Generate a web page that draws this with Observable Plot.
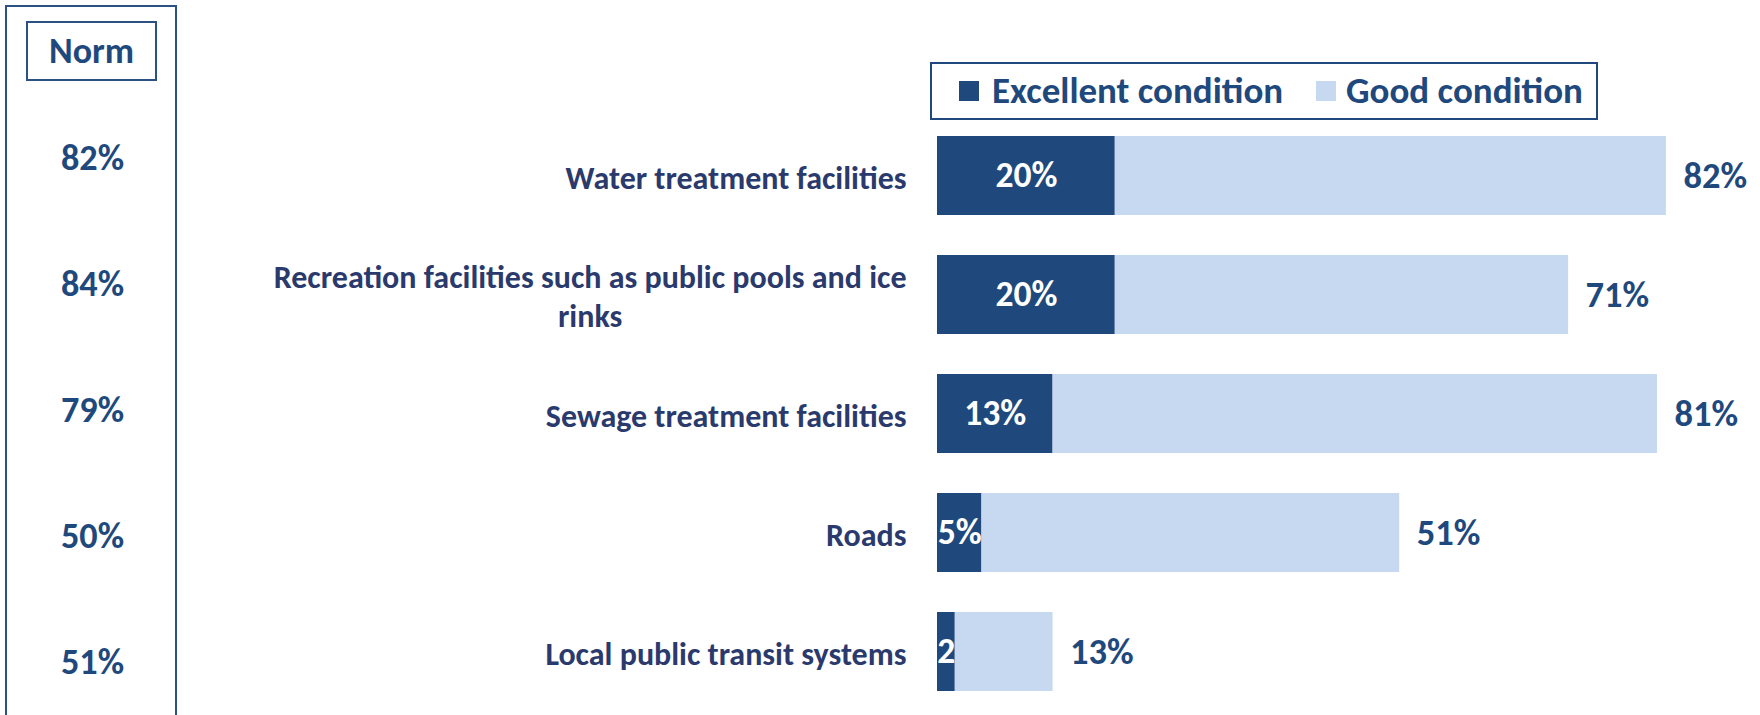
<!DOCTYPE html>
<html><head><meta charset="utf-8">
<script src="https://cdn.jsdelivr.net/npm/d3@7"></script>
<script src="https://cdn.jsdelivr.net/npm/@observablehq/plot@0.6"></script>
<style>
html,body{margin:0;padding:0;background:#fff;overflow:hidden;}
#wrap{position:relative;width:1760px;height:715px;font-family:Carlito, Lato, sans-serif;font-weight:bold;}
#wrap svg{position:absolute;left:0;top:0;background:transparent;}
.box{position:absolute;box-sizing:border-box;}
#normOuter{left:5px;top:5px;width:172px;height:730px;border:2px solid #2C5283;border-bottom:none;}
#normHead{left:26px;top:21px;width:131px;height:60px;border:2px solid #2C5283;display:flex;align-items:center;justify-content:center;color:#1F497D;font-size:36px;line-height:1;}
#legend{left:930px;top:62px;width:668px;height:58px;border:2px solid #1F497D;}
.sw{position:absolute;width:20px;height:20px;}
.lt{position:absolute;font-size:37px;line-height:37px;color:#1F497D;white-space:nowrap;}
</style></head><body>
<div id="wrap"></div>
<script>
// ---- data ----
const categories = [
  "Water treatment facilities",
  "Recreation facilities such as public pools and ice\nrinks",
  "Sewage treatment facilities",
  "Roads",
  "Local public transit systems"
];
const excellent = [20, 20, 13, 5, 2];
const good = [62, 51, 68, 47, 11];
const totals = [82, 71, 81, 51, 13];
const norm = [82, 84, 79, 50, 51];
const series = ["Excellent condition", "Good condition"];
const colors = ["#1F497D", "#C6D9F1"];

const rows = categories.map((c, i) => ({category: c, excellent: excellent[i], good: good[i], total: totals[i], norm: norm[i]}));
const long = rows.flatMap(r => [
  {category: r.category, series: series[0], value: r.excellent},
  {category: r.category, series: series[1], value: r.good}
]);

const FONT = "Carlito, Lato, sans-serif";
const wrap = document.getElementById("wrap");

const main = Plot.plot({
  width: 1760,
  height: 715,
  marginLeft: 937,
  marginRight: 23,
  marginTop: 115.6,
  marginBottom: 2.9,
  style: {fontFamily: FONT, background: "transparent"},
  x: {domain: [0, 90], axis: null},
  y: {domain: categories, paddingInner: 0.338, paddingOuter: 0.169, axis: null},
  color: {domain: series, range: colors},
  marks: [
    Plot.barX(long, Plot.stackX({y: "category", x: "value", fill: "series", order: series})),
    Plot.text(rows, {
      x: d => d.excellent / 2, y: "category",
      text: d => d.excellent >= 5 ? `${d.excellent}%` : `${d.excellent}`,
      fill: "white", fontSize: 35.6, fontWeight: "bold"
    }),
    Plot.text(rows, {
      x: d => d.excellent + d.good, y: "category",
      text: d => `${d.total}%`, textAnchor: "start", dx: 17,
      fill: "#1F497D", fontSize: 36.5, fontWeight: "bold"
    }),
    Plot.text(rows, {
      y: "category", text: "category", frameAnchor: "left", textAnchor: "end", dx: -31,
      fill: "#2B3A6D", fontSize: 32, fontWeight: "bold", lineHeight: 1.22
    })
  ]
});
wrap.appendChild(main);

// centre the lines of a wrapped category label within its right-aligned block
main.querySelectorAll("text").forEach(t => {
  const spans = t.querySelectorAll("tspan");
  if (spans.length > 1) {
    const w = d3.max(Array.from(spans), s => s.getComputedTextLength());
    t.setAttribute("text-anchor", "middle");
    spans.forEach(s => s.setAttribute("x", -w / 2));
  }
});

const normPlot = Plot.plot({
  width: 180,
  height: 715,
  margin: 0,
  marginLeft: 4,
  style: {fontFamily: FONT, background: "transparent"},
  x: {axis: null},
  y: {type: "point", domain: categories, range: [157, 662], padding: 0, axis: null},
  marks: [
    Plot.text(rows, {
      y: "category", frameAnchor: "middle", text: d => `${d.norm}%`,
      fill: "#1F497D", fontSize: 36.2, fontWeight: "bold"
    })
  ]
});
wrap.appendChild(normPlot);

// Norm column frame and header
const outer = document.createElement("div");
outer.className = "box"; outer.id = "normOuter";
wrap.appendChild(outer);
const head = document.createElement("div");
head.className = "box"; head.id = "normHead"; head.textContent = "Norm";
wrap.appendChild(head);

// legend
const legend = document.createElement("div");
legend.className = "box"; legend.id = "legend";
wrap.appendChild(legend);
const legendItems = [
  {sw: 27, tx: 60},
  {sw: 384, tx: 414}
];
series.forEach((s, i) => {
  const sw = document.createElement("div");
  sw.className = "sw";
  sw.style.left = legendItems[i].sw + "px";
  sw.style.top = "17px";
  sw.style.background = colors[i];
  legend.appendChild(sw);
  const tx = document.createElement("div");
  tx.className = "lt";
  tx.style.left = legendItems[i].tx + "px";
  tx.style.top = "8px";
  tx.textContent = s;
  legend.appendChild(tx);
});
</script>
</body></html>
